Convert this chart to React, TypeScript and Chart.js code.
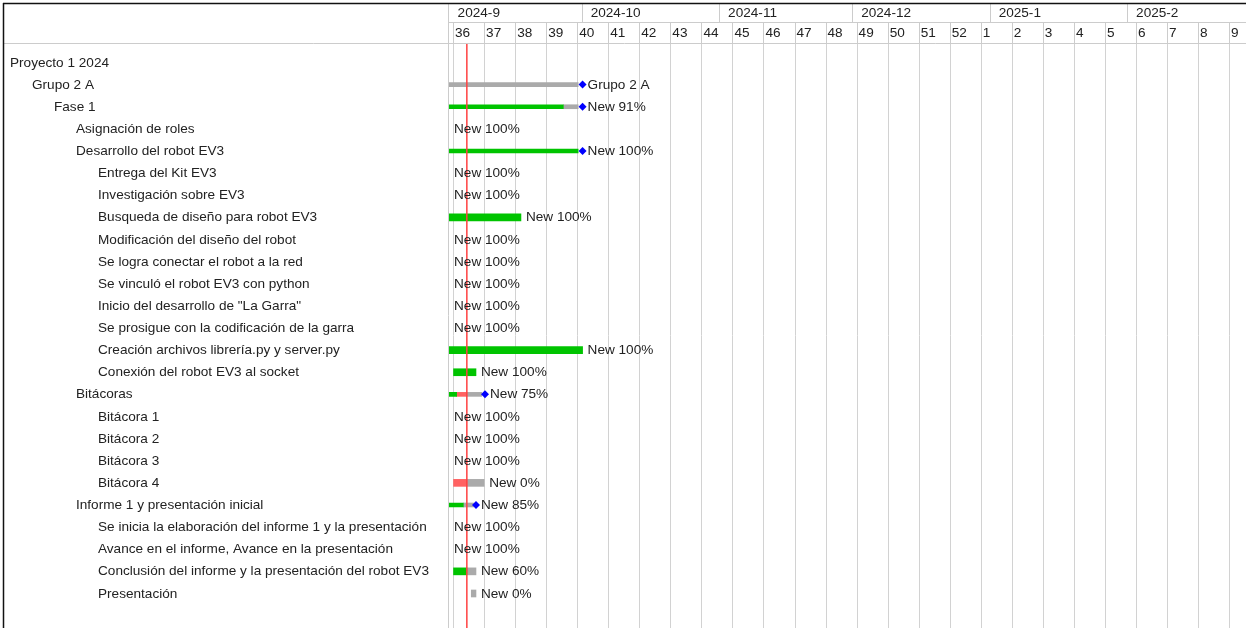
import React, { useEffect, useRef } from 'react';
import { Chart, registerables } from 'chart.js';

Chart.register(...registerables);

// ---- Data (x values are days counted from 2024-09-01) ----
const taskNames = [
  'Proyecto 1 2024',
  'Grupo 2 A',
  'Fase 1',
  'Asignación de roles',
  'Desarrollo del robot EV3',
  'Entrega del Kit EV3',
  'Investigación sobre EV3',
  'Busqueda de diseño para robot EV3',
  'Modificación del diseño del robot',
  'Se logra conectar el robot a la red',
  'Se vinculó el robot EV3 con python',
  'Inicio del desarrollo de "La Garra"',
  'Se prosigue con la codificación de la garra',
  'Creación archivos librería.py y server.py',
  'Conexión del robot EV3 al socket',
  'Bitácoras',
  'Bitácora 1',
  'Bitácora 2',
  'Bitácora 3',
  'Bitácora 4',
  'Informe 1 y presentación inicial',
  'Se inicia la elaboración del informe 1 y la presentación',
  'Avance en el informe, Avance en la presentación',
  'Conclusión del informe y la presentación del robot EV3',
  'Presentación',
];
const taskLevels = [0, 1, 2, 3, 3, 4, 4, 4, 4, 4, 4, 4, 4, 4, 4, 3, 4, 4, 4, 4, 3, 4, 4, 4, 4];
const taskTags = [
  '', 'Grupo 2 A', 'New 91%', 'New 100%', 'New 100%', 'New 100%', 'New 100%', 'New 100%',
  'New 100%', 'New 100%', 'New 100%', 'New 100%', 'New 100%', 'New 100%', 'New 100%',
  'New 75%', 'New 100%', 'New 100%', 'New 100%', 'New 0%', 'New 85%', 'New 100%',
  'New 100%', 'New 60%', 'New 0%',
];

// [row, start, end]
const summaryDone: [number, number, number][] = [
  [2, -6, 25.75],
  [4, -6, 29.1],
  [15, -6, 1.7],
  [20, -6, 3.2],
];
const summaryLate: [number, number, number][] = [[15, 1.7, 4]];
const summaryRest: [number, number, number][] = [
  [1, -6, 29.1],
  [2, 25.75, 29.1],
  [15, 4, 7.35],
  [20, 3.2, 5.5],
];
const taskDone: [number, number, number][] = [
  [7, -6, 16.2],
  [13, -6, 30.1],
  [14, 1, 6.06],
  [23, 1, 4],
];
const taskLate: [number, number, number][] = [[19, 1, 4]];
const taskRest: [number, number, number][] = [
  [19, 4, 7.9],
  [23, 4, 6.06],
  [24, 5, 6.06],
];
// [row, day]
const milestones: [number, number][] = [
  [1, 30.1],
  [2, 30.1],
  [4, 30.1],
  [15, 8.1],
  [20, 6.06],
];
const todayDay = 4;

const monthStarts = [0, 30, 61, 91, 122, 153];
const monthLabels = ['2024-9', '2024-10', '2024-11', '2024-12', '2025-1', '2025-2'];
const weekStarts = [1, 8, 15, 22, 29, 36, 43, 50, 57, 64, 71, 78, 85, 92, 99, 106, 113, 120, 127, 134, 141, 148, 155, 162, 169, 176];
const weekLabels = ['36', '37', '38', '39', '40', '41', '42', '43', '44', '45', '46', '47', '48', '49', '50', '51', '52', '1', '2', '3', '4', '5', '6', '7', '8', '9'];

const FONT = '13.6px "Liberation Sans", Arial, sans-serif';
const TEXT = '#222222';
const GREEN = '#00c400';
const GRAY = '#aaaaaa';
const RED = '#ff6262';

function align(px: number) {
  return Math.round(px - 0.5) + 0.5;
}

const ganttPlugin = {
  id: 'ganttDecor',
  afterDatasetsDraw(chart: any) {
    const ctx = chart.ctx as CanvasRenderingContext2D;
    const xs = chart.scales.x;
    const ys = chart.scales.y;
    const { left, top, bottom } = chart.chartArea;
    ctx.save();
    // today line
    const tx = xs.getPixelForValue(todayDay);
    ctx.strokeStyle = '#ff4040';
    ctx.lineWidth = 1.5;
    ctx.beginPath();
    ctx.moveTo(tx, top);
    ctx.lineTo(tx, bottom);
    ctx.stroke();
    // task tags
    ctx.font = FONT;
    ctx.fillStyle = TEXT;
    ctx.textAlign = 'left';
    ctx.textBaseline = 'middle';
    taskTags.forEach((tag, row) => {
      if (!tag) return;
      const ms = milestones.find((m) => m[0] === row);
      let x: number;
      if (ms) {
        x = xs.getPixelForValue(ms[1]) + 5;
      } else {
        const ends = [...summaryDone, ...summaryLate, ...summaryRest, ...taskDone, ...taskLate, ...taskRest]
          .filter((b) => b[0] === row)
          .map((b) => b[2]);
        if (ends.length) {
          x = Math.max(xs.getPixelForValue(Math.max(...ends)), left) + 5;
        } else {
          x = left + 6;
        }
      }
      ctx.fillText(tag, x, ys.getPixelForValue(row) + 0.3);
    });
    ctx.restore();
  },
  afterDraw(chart: any) {
    const ctx = chart.ctx as CanvasRenderingContext2D;
    const xs = chart.scales.x;
    const ys = chart.scales.y;
    const { left } = chart.chartArea;
    const W = chart.width;
    const H = chart.height;
    const line = (x1: number, y1: number, x2: number, y2: number) => {
      ctx.beginPath();
      ctx.moveTo(x1, y1);
      ctx.lineTo(x2, y2);
      ctx.stroke();
    };
    ctx.save();
    ctx.strokeStyle = '#cccccc';
    ctx.lineWidth = 1;
    line(3, 43.5, W, 43.5);
    line(left, 22.5, W, 22.5);
    line(align(left), 3, align(left), H);
    monthStarts.forEach((m) => {
      const px = xs.getPixelForValue(m);
      if (px > left + 3) line(align(px), 3, align(px), 22.5);
    });
    weekStarts.forEach((w) => {
      const px = xs.getPixelForValue(w);
      line(align(px), 22.5, align(px), 43.5);
    });
    ctx.font = FONT;
    ctx.fillStyle = TEXT;
    ctx.textAlign = 'left';
    ctx.textBaseline = 'middle';
    monthStarts.forEach((m, i) => {
      const px = Math.max(xs.getPixelForValue(m), left);
      ctx.fillText(monthLabels[i], px + 8.5, 13.5);
    });
    weekStarts.forEach((w, i) => {
      const px = xs.getPixelForValue(w);
      ctx.fillText(weekLabels[i], px + 1.5, 33);
    });
    // left panel names
    taskNames.forEach((name, row) => {
      ctx.fillText(name, 10 + taskLevels[row] * 22, ys.getPixelForValue(row) + 0.3);
    });
    // outer frame
    ctx.strokeStyle = '#111111';
    ctx.lineWidth = 1.5;
    line(3, 3.5, W, 3.5);
    line(3.5, 3, 3.5, H);
    ctx.restore();
  },
};

function barSet(label: string, rows: [number, number, number][], color: string, thickness: number) {
  return {
    type: 'bar' as const,
    label,
    indexAxis: 'y' as const,
    data: rows.map(([r, s, e]) => ({ y: r, x: [s, e] })),
    backgroundColor: color,
    borderWidth: 0,
    borderSkipped: false,
    barThickness: thickness,
    grouped: false,
    clip: 0,
  };
}

export default function App() {
  const canvasRef = useRef<HTMLCanvasElement | null>(null);

  useEffect(() => {
    if (!canvasRef.current) return;
    const chart = new Chart(canvasRef.current, {
      type: 'bar',
      data: {
        datasets: [
          {
            type: 'scatter',
            label: 'Hitos',
            data: milestones.map(([r, d]) => ({ x: d, y: r })),
            pointStyle: 'rectRot',
            pointRadius: 4,
            pointHoverRadius: 4,
            backgroundColor: '#0000ff',
            borderColor: '#0000ff',
            borderWidth: 0,
            order: -1,
            clip: 0,
          } as any,
          barSet('Resumen completado', summaryDone, GREEN, 4),
          barSet('Resumen atrasado', summaryLate, RED, 4),
          barSet('Resumen pendiente', summaryRest, GRAY, 4),
          barSet('Tarea completada', taskDone, GREEN, 7),
          barSet('Tarea atrasada', taskLate, RED, 7),
          barSet('Tarea pendiente', taskRest, GRAY, 7),
        ] as any,
      },
      options: {
        animation: false,
        responsive: false,
        maintainAspectRatio: false,
        layout: { autoPadding: false, padding: { left: 448, top: 43, right: 0, bottom: 0 } },
        plugins: { legend: { display: false }, tooltip: { enabled: false } },
        scales: {
          x: {
            type: 'linear',
            position: 'top',
            offset: false,
            beginAtZero: false,
            min: -0.25,
            max: 179.7,
            ticks: { display: false },
            grid: { color: '#d2d2d2', lineWidth: 1, drawTicks: false, offset: false },
            border: { display: false },
            afterBuildTicks: (scale: any) => {
              scale.ticks = weekStarts.map((v) => ({ value: v }));
            },
          },
          y: {
            type: 'linear',
            reverse: true,
            offset: false,
            beginAtZero: false,
            min: -0.881,
            max: 25.56,
            display: false,
            grid: { offset: false },
          },
        },
      } as any,
      plugins: [ganttPlugin],
    });
    return () => chart.destroy();
  }, []);

  return (
    <div style={{ position: 'fixed', left: 0, top: 0, width: 1246, height: 628, background: '#ffffff' }}>
      <canvas ref={canvasRef} width={1246} height={628} style={{ width: 1246, height: 628, display: 'block' }} />
    </div>
  );
}
